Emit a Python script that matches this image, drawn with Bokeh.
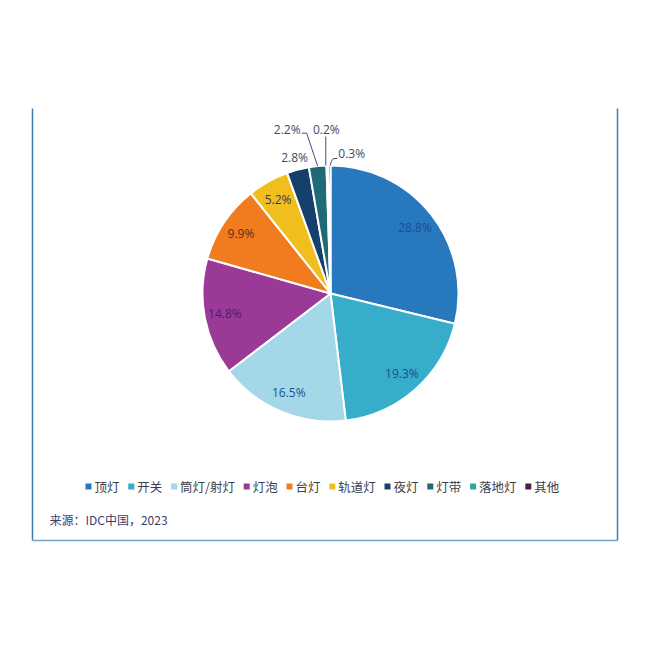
import numpy as np
from bokeh.plotting import figure
from bokeh.models import Range1d, ColumnDataSource
from bokeh.core.properties import value
from bokeh.embed import file_html
from bokeh.resources import INLINE

categories = ["顶灯", "开关", "筒灯/射灯", "灯泡", "台灯", "轨道灯", "夜灯", "灯带", "落地灯", "其他"]
shares = [28.8, 19.3, 16.5, 14.8, 9.9, 5.2, 2.8, 2.2, 0.2, 0.3]
labels = ["28.8%", "19.3%", "16.5%", "14.8%", "9.9%", "5.2%", "2.8%", "2.2%", "0.2%", "0.3%"]
colors = ["#2878BE", "#35ADCB", "#A4D8E8", "#9A3A96", "#F07C1F", "#F1BF1D",
          "#15406B", "#1E6A77", "#2CA3A6", "#4A2342"]
label_colors = ["#1F4C96", "#1F4C8C", "#22508F", "#4A1E6C", "#5A2E1E", "#3B3550",
                "#44486A", "#44486A", "#44486A", "#44486A"]
source_note = "来源：IDC中国，2023"

W = H = 634
def Y(img_y):
    return H - img_y

p = figure(width=W, height=H, output_backend="svg", toolbar_location=None,
           x_range=Range1d(0, W), y_range=Range1d(0, H),
           min_border=0, background_fill_color="white", border_fill_color="white")
p.axis.visible = False
p.grid.visible = False
p.outline_line_color = None

# frame
p.segment(x0=[32, 617, 32], y0=[Y(108), Y(108), Y(540)], x1=[32, 617, 617], y1=[Y(540), Y(540), Y(540)],
          line_color=["#3F7DB3", "#3F7DB3", "#6FA9C9"], line_width=1.5)

# pie
cx, cy, R = 330, Y(293), 128
frac = np.array(shares) / sum(shares)
cum = np.concatenate([[0], np.cumsum(frac)])
start = np.pi / 2 - 2 * np.pi * cum[:-1]
end = np.pi / 2 - 2 * np.pi * cum[1:]
mid_theta = 2 * np.pi * (cum[:-1] + cum[1:]) / 2  # clockwise from top
src = ColumnDataSource(dict(start=start, end=end, color=colors))
p.wedge(x=cx, y=cy, radius=R, start_angle="start", end_angle="end", direction="clock",
        fill_color="color", line_color="white", line_width=2, source=src)

# inside labels
inside = [0, 1, 2, 3, 4, 5]
r_in = 0.84 * R
p.text(x=[cx + r_in * np.sin(mid_theta[i]) for i in inside],
       y=[cy + r_in * np.cos(mid_theta[i]) for i in inside],
       text=[labels[i] for i in inside], text_color=[label_colors[i] for i in inside],
       text_align="center", text_baseline="middle", text_font=value("Open Sans"),
       text_font_size="12px")

# 2.8% outside label, no leader
i = 6
p.text(x=[cx + 1.1 * R * np.sin(mid_theta[i])], y=[cy + 1.1 * R * np.cos(mid_theta[i])],
       text=[labels[i]], text_color=label_colors[i], text_align="center", text_baseline="middle",
       text_font=value("Open Sans"), text_font_size="12px")

# leader lines for small slices
lead_col = "#4A4E6E"
ex = [cx + R * np.sin(mid_theta[k]) for k in (7, 8, 9)]
ey = [cy + R * np.cos(mid_theta[k]) for k in (7, 8, 9)]
# 2.2%
p.line(x=[ex[0], ex[0] - 11, ex[0] - 16], y=[ey[0], ey[0] + 33, ey[0] + 33], line_color=lead_col, line_width=1)
p.text(x=[ex[0] - 17], y=[ey[0] + 37], text=[labels[7]], text_color=label_colors[7],
       text_align="right", text_baseline="middle", text_font=value("Open Sans"), text_font_size="12px")
# 0.2%
p.line(x=[ex[1] - 1.5, ex[1] - 1.5], y=[ey[1], ey[1] + 29], line_color=lead_col, line_width=1)
p.text(x=[ex[1] - 1], y=[ey[1] + 36], text=[labels[8]], text_color=label_colors[8],
       text_align="center", text_baseline="middle", text_font=value("Open Sans"), text_font_size="12px")
# 0.3%
p.line(x=[ex[2] + 1, ex[2] + 2, ex[2] + 4, ex[2] + 8], y=[ey[2], ey[2] + 4, ey[2] + 7, ey[2] + 7],
       line_color=lead_col, line_width=1)
p.text(x=[ex[2] + 9], y=[ey[2] + 12], text=[labels[9]], text_color=label_colors[9],
       text_align="left", text_baseline="middle", text_font=value("Open Sans"), text_font_size="12px")

# legend
char_w = 12.4
widths = [sum(5 if ch == "/" else char_w for ch in c) + 18 for c in categories]
mx = 88 + np.concatenate([[0], np.cumsum(widths)[:-1]])
ly = Y(486)
p.scatter(x=mx, y=ly, marker="square", size=6, fill_color=colors, line_color=None)
p.text(x=mx + 6, y=ly, text=categories, text_color="#3E3E4A", text_align="left",
       text_baseline="middle", text_font=value("Noto Sans CJK SC"), text_font_size="12.5px")

# source
p.text(x=[49], y=[Y(519)], text=[source_note], text_color="#3B3D6C", text_align="left",
       text_baseline="middle", text_font=value("Noto Sans CJK SC"), text_font_size="12px")

open("out.html", "w").write(file_html(p, INLINE))
